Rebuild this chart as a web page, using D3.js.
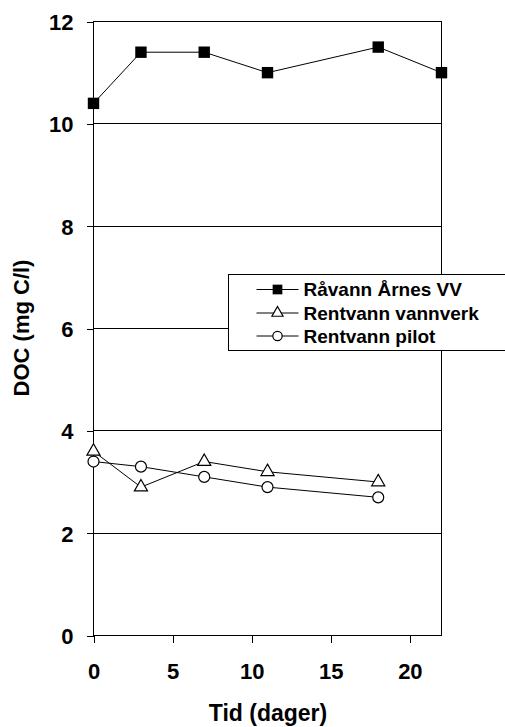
<!DOCTYPE html>
<html>
<head>
<meta charset="UTF-8" />
<title>DOC</title>
<style>
  body { margin: 0; background: #fff; }
  text { font-family: "Liberation Sans", Arial, sans-serif; font-weight: bold; fill: #000; }
  .axis path, .axis line { stroke: #000; stroke-width: 1px; shape-rendering: crispEdges; }
  .grid line { stroke: #000; stroke-width: 1px; shape-rendering: crispEdges; }
  .serie { fill: none; stroke: #000; stroke-width: 1px; }
</style>
<script src="https://d3js.org/d3.v7.min.js"></script>
</head>
<body>
<script>
// data
var raavannX = [0, 3, 7, 11, 18, 22];
var raavannY = [10.4, 11.4, 11.4, 11.0, 11.5, 11.0];
var vannverkX = [0, 3, 7, 11, 18];
var vannverkY = [3.6, 2.9, 3.4, 3.2, 3.0];
var pilotX = [0, 3, 7, 11, 18];
var pilotY = [3.4, 3.3, 3.1, 2.9, 2.7];
var seriesNames = ["Råvann Årnes VV", "Rentvann vannverk", "Rentvann pilot"];
var xTicks = [0, 5, 10, 15, 20];
var yTicks = [0, 2, 4, 6, 8, 10, 12];

var width = 505, height = 727;
var svg = d3.select("body").append("svg")
    .attr("width", width)
    .attr("height", height);

var x = d3.scaleLinear().domain([0, 22]).range([93.5, 441.5]);
var y = d3.scaleLinear().domain([0, 12]).range([635.5, 21.5]);

// grid lines
svg.append("g").attr("class", "grid")
  .selectAll("line")
  .data(yTicks.filter(function(d) { return d > 0 && d < 12; }))
  .enter().append("line")
  .attr("x1", x(0)).attr("x2", x(22))
  .attr("y1", function(d) { return y(d); })
  .attr("y2", function(d) { return y(d); });

// plot border
svg.append("rect")
  .attr("x", x(0)).attr("y", y(12))
  .attr("width", x(22) - x(0)).attr("height", y(0) - y(12))
  .attr("fill", "none").attr("stroke", "#000").attr("stroke-width", 1)
  .attr("shape-rendering", "crispEdges");

// axes
var yAxis = svg.append("g").attr("class", "axis")
  .attr("transform", "translate(" + x(0) + ",0)")
  .call(d3.axisLeft(y).tickValues(yTicks).tickSize(7).tickPadding(13).tickSizeOuter(0));
yAxis.select(".domain").remove();
yAxis.selectAll("text").style("font-size", "22px").attr("dy", "0.36em");

var xAxis = svg.append("g").attr("class", "axis")
  .attr("transform", "translate(0," + y(0) + ")")
  .call(d3.axisBottom(x).tickValues(xTicks).tickSize(7).tickPadding(21).tickSizeOuter(0));
xAxis.select(".domain").remove();
xAxis.selectAll("text").style("font-size", "22px");

// axis titles
svg.append("text")
  .attr("x", 268)
  .attr("y", 721)
  .attr("text-anchor", "middle")
  .style("font-size", "23px")
  .text("Tid (dager)");

svg.append("text")
  .attr("transform", "translate(29," + 328 + ")rotate(-90)")
  .attr("text-anchor", "middle")
  .style("font-size", "22px")
  .text("DOC (mg C/l)");

// lines
var line = d3.line()
  .x(function(d) { return x(d[0]); })
  .y(function(d) { return y(d[1]); });

function pts(xs, ys) { return xs.map(function(v, i) { return [v, ys[i]]; }); }

var data = [pts(raavannX, raavannY), pts(vannverkX, vannverkY), pts(pilotX, pilotY)];

data.forEach(function(d) {
  svg.append("path").attr("class", "serie").attr("d", line(d));
});

function marker(g, k, scale) {
  if (k === 0) {
    g.append("path").attr("d", d3.symbol().type(d3.symbolSquare).size(130 * scale * scale)())
      .attr("fill", "#000");
  } else if (k === 1) {
    g.append("path").attr("d", d3.symbol().type(d3.symbolTriangle).size(75 * scale * scale)())
      .attr("fill", "#fff").attr("stroke", "#000").attr("stroke-width", 1.2);
  } else {
    g.append("circle").attr("r", 5.5 * scale)
      .attr("fill", "#fff").attr("stroke", "#000").attr("stroke-width", 1.2);
  }
}

data.forEach(function(d, k) {
  svg.append("g").selectAll("g")
    .data(d).enter().append("g")
    .attr("transform", function(p) { return "translate(" + x(p[0]) + "," + y(p[1]) + ")"; })
    .each(function() { marker(d3.select(this), k, 1); });
});

// legend
var legend = svg.append("g").attr("transform", "translate(228.5,274.5)");
legend.append("rect")
  .attr("width", 290).attr("height", 76)
  .attr("fill", "#fff").attr("stroke", "#000").attr("stroke-width", 1);

var rows = [15, 38.5, 61.5];
seriesNames.forEach(function(name, k) {
  var r = legend.append("g").attr("transform", "translate(0," + rows[k] + ")");
  r.append("line").attr("x1", 28).attr("x2", 70).attr("stroke", "#000").attr("stroke-width", 1);
  var m = r.append("g").attr("transform", "translate(49,0)");
  marker(m, k, 0.85);
  r.append("text").attr("x", 75).attr("dy", "0.36em")
    .style("font-size", "19px").text(name);
});
</script>
</body>
</html>
